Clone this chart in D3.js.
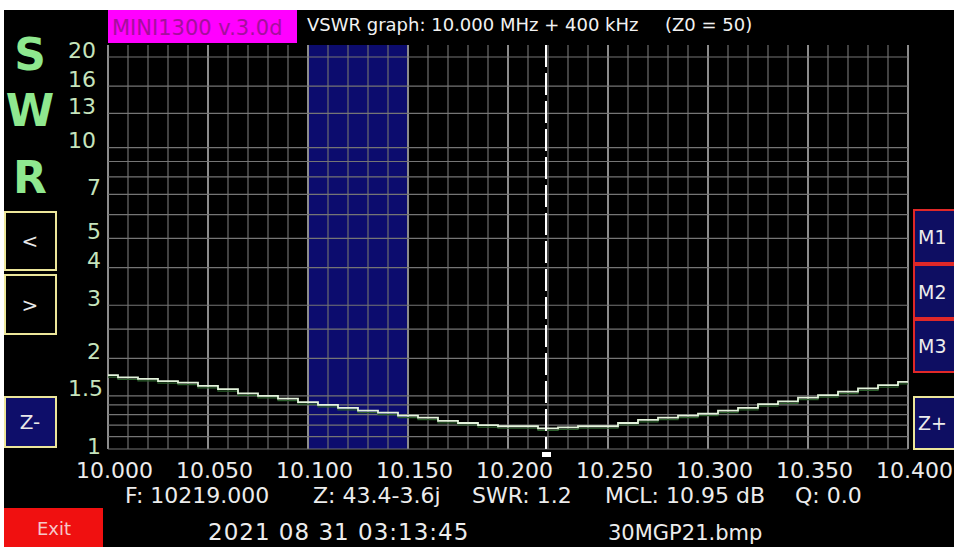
<!DOCTYPE html>
<html>
<head>
<meta charset="utf-8">
<script src="https://cdn.jsdelivr.net/npm/d3@7"></script>
<style>
  body { margin: 0; background: #fff; }
  svg { display: block; font-family: "DejaVu Sans", sans-serif; }
</style>
</head>
<body>
<div id="canvas"></div>
<script>
// sweep 10.000 MHz + 400 kHz, one reading per 10 kHz
const freqs = [10.00, 10.01, 10.02, 10.03, 10.04, 10.05, 10.06, 10.07, 10.08, 10.09,
  10.10, 10.11, 10.12, 10.13, 10.14, 10.15, 10.16, 10.17, 10.18, 10.19,
  10.20, 10.21, 10.22, 10.23, 10.24, 10.25, 10.26, 10.27, 10.28, 10.29,
  10.30, 10.31, 10.32, 10.33, 10.34, 10.35, 10.36, 10.37, 10.38, 10.39, 10.40]
const swr = [1.76, 1.73, 1.71, 1.68, 1.66, 1.62, 1.58, 1.53, 1.50, 1.47,
  1.43, 1.40, 1.37, 1.34, 1.32, 1.29, 1.27, 1.24, 1.22, 1.20,
  1.19, 1.19, 1.17, 1.18, 1.19, 1.19, 1.22, 1.25, 1.27, 1.29,
  1.31, 1.34, 1.37, 1.41, 1.44, 1.48, 1.51, 1.55, 1.59, 1.63, 1.67]

const xTicks = [10.00, 10.05, 10.10, 10.15, 10.20, 10.25, 10.30, 10.35, 10.40]
const swrTicks = [1, 1.5, 2, 3, 4, 5, 7, 10, 13, 16, 20]
const swrGrid = [1, 1.1, 1.2, 1.3, 1.4, 1.5, 2, 2.5, 3, 4, 5, 6, 7, 8, 9, 10, 13, 16, 20]
const band = [10.10, 10.15]
const markerFreq = 10.219

const title = "VSWR graph: 10.000 MHz + 400 kHz"
const z0Text = "(Z0 = 50)"
const versionText = "MINI1300 v.3.0d"
const infoItems = ["F: 10219.000", "Z: 43.4-3.6j", "SWR: 1.2", "MCL: 10.95 dB", "Q: 0.0"]
const dateText = "2021 08 31 03:13:45"
const fileText = "30MGP21.bmp"
const leftButtons = ["<", ">", "Z-"]
const rightButtons = ["M1", "M2", "M3", "Z+"]

const W = 954, H = 547
const plotTop = 45, plotBottom = 449, plotLeft = 108, plotRight = 908

const svg = d3.select('#canvas').append('svg')
  .attr('width', W).attr('height', H)

// black screen, white strip on top and left like the screenshot
svg.append('rect').attr('x', 4).attr('y', 10).attr('width', W - 4).attr('height', H - 10)
  .attr('fill', '#000')

const x = d3.scaleLinear().domain([10.0, 10.4]).range([plotLeft, plotRight])
const y = d3.scaleLog().domain([1, 20]).range([plotBottom, 57])

// selected band
svg.append('rect')
  .attr('x', x(band[0])).attr('y', plotTop)
  .attr('width', x(band[1]) - x(band[0])).attr('height', plotBottom - plotTop)
  .attr('fill', '#0c0c6e')

// vertical grid, every 10 kHz, heavier every 50 kHz
const grid = svg.append('g')
grid.selectAll('line.v')
  .data(freqs)
  .enter().append('line')
  .attr('class', 'v')
  .attr('x1', d => x(d)).attr('x2', d => x(d))
  .attr('y1', plotTop).attr('y2', plotBottom)
  .attr('stroke', (d, i) => i % 5 === 0 ? '#8c8c8c' : '#6e6e6e')
  .attr('stroke-width', (d, i) => i % 5 === 0 ? 2 : 1.2)

grid.selectAll('line.h')
  .data(swrGrid)
  .enter().append('line')
  .attr('class', 'h')
  .attr('x1', plotLeft).attr('x2', plotRight)
  .attr('y1', d => y(d)).attr('y2', d => y(d))
  .attr('stroke', '#757575')
  .attr('stroke-width', 1.2)

// trace
const line = d3.line()
  .x((d, i) => x(freqs[i]))
  .y(d => y(d))
  .curve(d3.curveStep)

svg.append('path').datum(swr)
  .attr('d', line)
  .attr('transform', 'translate(0,2)')
  .attr('fill', 'none')
  .attr('stroke', '#2a5e2a')
  .attr('stroke-width', 1.2)
svg.append('path').datum(swr)
  .attr('d', line)
  .attr('fill', 'none')
  .attr('stroke', '#e4f4dc')
  .attr('stroke-width', 1.8)

// marker
svg.append('line')
  .attr('x1', x(markerFreq)).attr('x2', x(markerFreq))
  .attr('y1', plotTop).attr('y2', plotBottom)
  .attr('stroke', '#fff').attr('stroke-width', 2)
  .attr('stroke-dasharray', '22,6')
svg.append('rect')
  .attr('x', x(markerFreq) - 4).attr('y', 452)
  .attr('width', 9).attr('height', 5)
  .attr('fill', '#fff')

// x axis labels
svg.append('g')
  .attr('transform', 'translate(6,478)')
  .call(d3.axisBottom(x).tickValues(xTicks).tickFormat(d3.format('.3f')).tickSize(0))
  .call(g => g.select('.domain').remove())
  .call(g => g.selectAll('text')
    .attr('y', 0).attr('dy', null)
    .attr('fill', '#ececec')
    .attr('font-size', 22)
    .attr('font-family', '"DejaVu Sans", sans-serif'))

// y axis labels
svg.append('g')
  .call(d3.axisLeft(y).tickValues(swrTicks).tickFormat(d => String(d)).tickSize(0))
  .call(g => g.select('.domain').remove())
  .call(g => g.selectAll('text')
    .attr('text-anchor', 'start')
    .attr('x', d => String(d).length > 1 ? 68 : 87)
    .attr('dy', d => d === 1 ? 4 : 0)
    .attr('fill', '#c6e4bc')
    .attr('font-size', 22)
    .attr('font-family', '"DejaVu Sans", sans-serif'))

// S W R
svg.selectAll('text.swr')
  .data(['S', 'W', 'R'])
  .enter().append('text')
  .attr('class', 'swr')
  .attr('x', 30)
  .attr('y', (d, i) => [70, 126, 193][i])
  .attr('text-anchor', 'middle')
  .attr('font-size', 44)
  .attr('font-weight', 'bold')
  .attr('fill', '#8fe88f')
  .text(d => d)

// header
svg.append('rect').attr('x', 108).attr('y', 10).attr('width', 189).attr('height', 33)
  .attr('fill', '#ff00ff')
svg.append('text').attr('x', 112).attr('y', 35)
  .attr('font-size', 21).attr('fill', '#a4109c')
  .text(versionText)
svg.append('text').attr('x', 307).attr('y', 31)
  .attr('font-size', 18).attr('fill', '#f2f2f2')
  .text(title)
svg.append('text').attr('x', 665).attr('y', 31)
  .attr('font-size', 18).attr('fill', '#f2f2f2')
  .text(z0Text)

// info line
const infoX = [125, 313, 472, 605, 795]
svg.selectAll('text.info')
  .data(infoItems)
  .enter().append('text')
  .attr('class', 'info')
  .attr('x', (d, i) => infoX[i])
  .attr('y', 503)
  .attr('font-size', 22)
  .attr('fill', '#ececec')
  .text(d => d)

svg.append('text').attr('x', 208).attr('y', 540)
  .attr('font-size', 23).attr('letter-spacing', 1)
  .attr('fill', '#ececec').text(dateText)
svg.append('text').attr('x', 608).attr('y', 540)
  .attr('font-size', 21).attr('fill', '#ececec').text(fileText)

// Exit
svg.append('rect').attr('x', 4).attr('y', 508).attr('width', 99).attr('height', 39)
  .attr('fill', '#f01010')
svg.append('text').attr('x', 54).attr('y', 535).attr('text-anchor', 'middle')
  .attr('font-size', 18).attr('fill', '#f6c8c8').text('Exit')

// left buttons
const leftBox = [[212, 58, '#000'], [275, 59, '#000'], [397, 50, '#0e0e6a']]
svg.selectAll('g.lb')
  .data(leftButtons)
  .enter().append('g')
  .attr('class', 'lb')
  .each(function (d, i) {
    const [yy, hh, fill] = leftBox[i]
    const g = d3.select(this)
    g.append('rect').attr('x', 5).attr('y', yy).attr('width', 51).attr('height', hh)
      .attr('fill', fill).attr('stroke', '#ece69a').attr('stroke-width', 2)
    g.append('text').attr('x', 30).attr('y', yy + hh / 2 + 7).attr('text-anchor', 'middle')
      .attr('font-size', 20).attr('fill', '#e8e8e8').text(d)
  })

// right buttons
const rightBox = [[210, 53, '#e02828'], [265, 53, '#e02828'], [320, 52, '#e02828'], [397, 52, '#ece69a']]
svg.selectAll('g.rb')
  .data(rightButtons)
  .enter().append('g')
  .attr('class', 'rb')
  .each(function (d, i) {
    const [yy, hh, stroke] = rightBox[i]
    const g = d3.select(this)
    g.append('rect').attr('x', 914).attr('y', yy).attr('width', 50).attr('height', hh)
      .attr('fill', '#0e0e62').attr('stroke', stroke).attr('stroke-width', 2)
    g.append('text').attr('x', 918).attr('y', yy + hh / 2 + 7)
      .attr('font-size', 19).attr('fill', '#ececec').text(d)
  })
</script>
</body>
</html>
